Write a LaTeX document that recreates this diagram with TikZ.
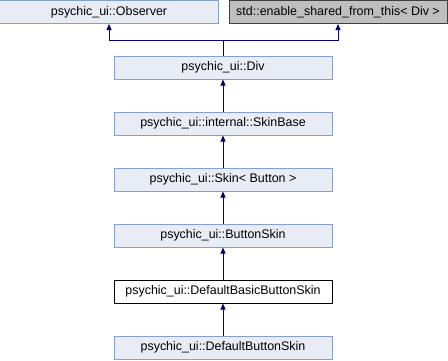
\documentclass[tikz,border=0pt]{standalone}
\usepackage{fontspec}
\setmainfont{Liberation Sans}
\usepackage{xcolor}
\usetikzlibrary{arrows.meta}

\definecolor{classfill}{HTML}{E8ECF4}
\definecolor{classline}{HTML}{84A0D0}
\definecolor{extfill}{HTML}{BFBFBF}
\definecolor{edgeblue}{HTML}{000080}

\tikzset{
    classbox/.style={draw=classline, fill=classfill, line width=1bp,
        minimum width=218bp, minimum height=23bp, inner sep=0pt,
        font=\fontsize{12.5}{14}\selectfont},
    extbox/.style={classbox, draw=black!75, fill=extfill},
    thisbox/.style={classbox, draw=black, fill=white},
    inherit/.style={draw=edgeblue, line width=1bp,
        -{Triangle[width=5bp,length=6bp]}}
}

\begin{document}
\begin{tikzpicture}[x=1bp, y=-1bp]
    \useasboundingbox (0,0) rectangle (448,360);

    % --- BASE CLASSES ---
    \node[classbox] (observer) at (109,12) {psychic\_ui::Observer};
    \node[extbox]   (enable)   at (338,12) {std::enable\_shared\_from\_this< Div >};

    % --- INHERITANCE CHAIN ---
    \node[classbox] (div)      at (223,67.5)  {psychic\_ui::Div};
    \node[classbox] (skinbase) at (223,123.5) {psychic\_ui::internal::SkinBase};
    \node[classbox] (skin)     at (223,179.5) {psychic\_ui::Skin< Button >};
    \node[classbox] (btnskin)  at (223,235.5) {psychic\_ui::ButtonSkin};
    \node[thisbox]  (basic)    at (223,291.5) {psychic\_ui::DefaultBasicButtonSkin};
    \node[classbox] (dflt)     at (223,347.5) {psychic\_ui::DefaultButtonSkin};

    % Div derives from both base classes
    \coordinate (join) at (223,40);
    \draw[draw=edgeblue, line width=1bp] (div.north) -- (join);
    \draw[inherit] (join) -| (observer.south);
    \draw[inherit] (join) -| (enable.south);

    % Single inheritance down the chain
    \foreach \child/\parent in {skinbase/div, skin/skinbase, btnskin/skin,
                                basic/btnskin, dflt/basic}
        \draw[inherit] (\child.north) -- (\parent.south);
\end{tikzpicture}
\end{document}
